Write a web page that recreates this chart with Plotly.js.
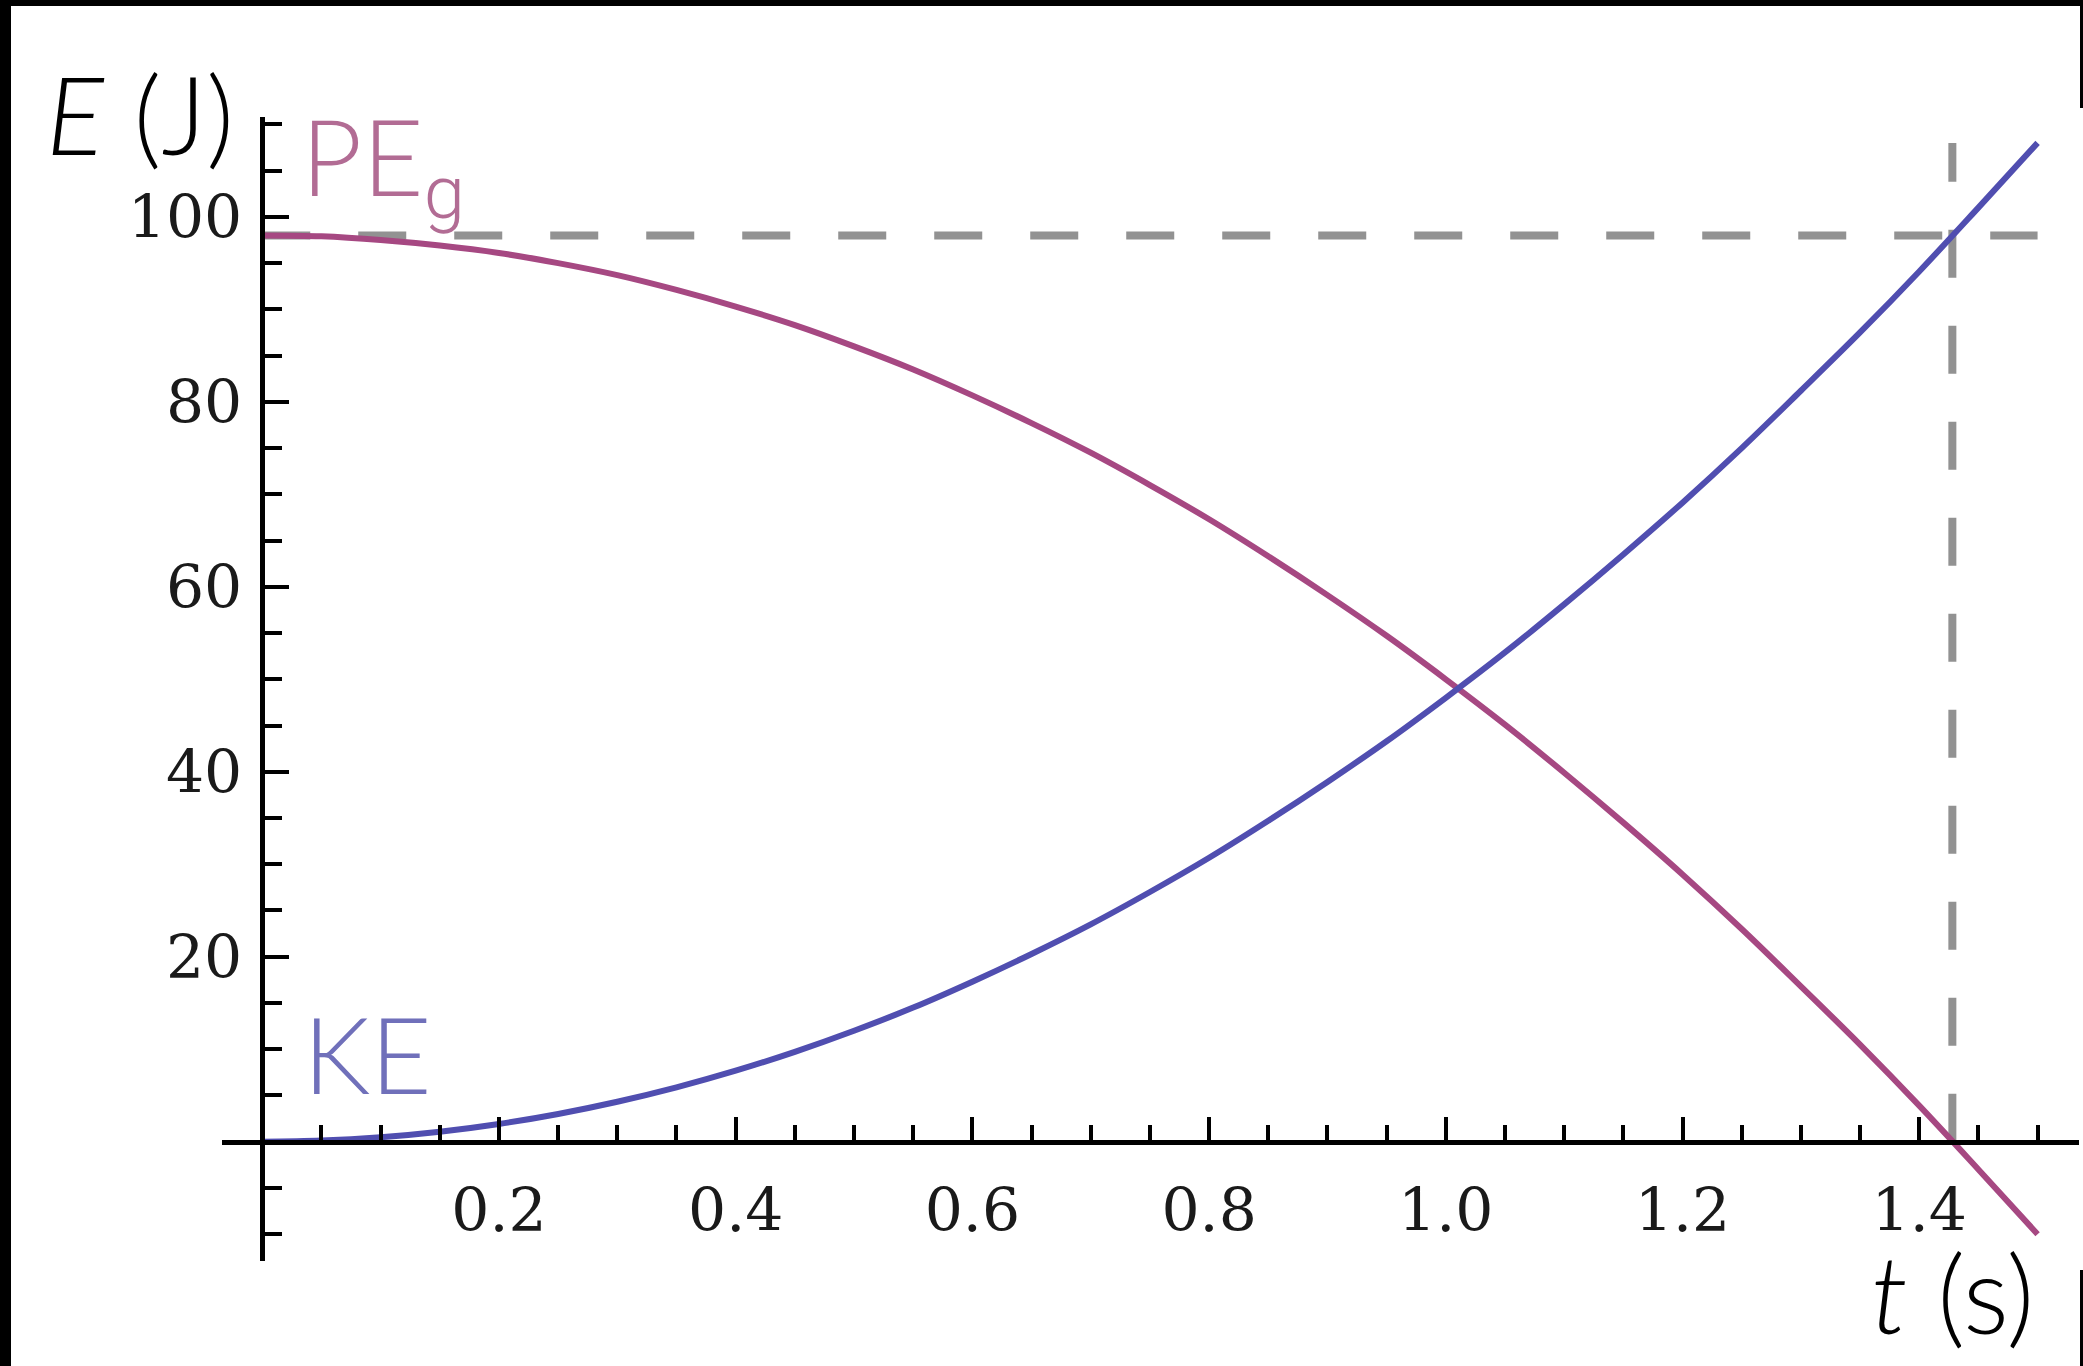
<!DOCTYPE html>
<html>
<head>
<meta charset="utf-8">
<script src="https://cdn.plot.ly/plotly-3.0.1.min.js"></script>
<style>
  html, body { margin: 0; padding: 0; background: #ffffff; }
  #wrap { position: relative; width: 2083px; height: 1366px; overflow: hidden; background: #fff; }
  #chart { position: absolute; left: 0; top: 0; width: 2083px; height: 1366px; }
  .edge { position: absolute; background: #000; }
</style>
</head>
<body>
<div id="wrap">
  <div id="chart"></div>
  <div class="edge" style="left:0;top:0;width:11px;height:1366px;"></div>
  <div class="edge" style="left:0;top:0;width:2083px;height:6px;"></div>
  <div class="edge" style="left:2080px;top:0;width:3px;height:108px;"></div>
  <div class="edge" style="left:2080px;top:1270px;width:3px;height:96px;"></div>
</div>
<script>
// ---- data ----
const time = [0, 0.05, 0.1, 0.15, 0.2, 0.25, 0.3, 0.35, 0.4, 0.45, 0.5,
              0.55, 0.6, 0.65, 0.7, 0.75, 0.8, 0.85, 0.9, 0.95, 1.0,
              1.05, 1.1, 1.15, 1.2, 1.25, 1.3, 1.35, 1.4, 1.45, 1.5];
const kineticEnergy = [0, 0.12, 0.48, 1.08, 1.92, 3.0, 4.32, 5.88, 7.68, 9.72, 12.0,
                       14.5, 17.3, 20.3, 23.5, 27.0, 30.7, 34.7, 38.9, 43.3, 48.0,
                       52.9, 58.1, 63.5, 69.1, 75.0, 81.2, 87.5, 94.1, 101.0, 108.0];
const potentialEnergy = [98, 97.9, 97.5, 96.9, 96.1, 95.0, 93.7, 92.1, 90.3, 88.3, 86.0,
                         83.5, 80.7, 77.7, 74.5, 71.0, 67.3, 63.3, 59.1, 54.7, 50.0,
                         45.1, 39.9, 34.5, 28.9, 23.0, 16.8, 10.5, 3.9, -3.0, -10.0];
const refLevelX = [0, 1.5];          // horizontal dashed guide (total energy)
const refLevelY = [98, 98];
const refTimeX = [1.428, 1.428];     // vertical dashed guide (PE reaches 0)
const refTimeY = [0, 108];
const xTickVals = [0.2, 0.4, 0.6, 0.8, 1.0, 1.2, 1.4];
const xTickText = ["0.2", "0.4", "0.6", "0.8", "1.0", "1.2", "1.4"];
const yTickVals = [20, 40, 60, 80, 100];
const yTickText = ["20", "40", "60", "80", "100"];
const labelE = "<i>E</i> (J)";
const labelT = "<i>t</i> (s)";
const labelPE = "PE<sub><span style=\"font-family:Roboto, 'DejaVu Sans', sans-serif\">g</span></sub>";
const labelKE = "KE";

// ---- styling ----
const PE_COLOR = "rgb(166,72,130)";
const KE_COLOR = "rgb(80,78,176)";
const GUIDE = "rgb(146,146,146)";
const SANS = "Lato, 'Open Sans', sans-serif";
const SERIF = "'DejaVu Serif', 'Liberation Serif', serif";

const xRange = [-0.034, 1.535];
const yRange = [-12.9, 110.8];
const yAxisPos = (0 - xRange[0]) / (xRange[1] - xRange[0]);
const xAxisPos = (0 - yRange[0]) / (yRange[1] - yRange[0]);

// pixel helpers for label placement (paper coordinates)
const px2x = p => (p - 222) / 1857;
const px2y = p => (1261.5 - p) / 1144.5;

const traces = [
  { x: refLevelX, y: refLevelY, mode: "lines", line: { color: GUIDE, width: 8, dash: "48px,48px" }, hoverinfo: "skip", showlegend: false },
  { x: refTimeX, y: refTimeY, mode: "lines", line: { color: GUIDE, width: 8, dash: "48px,48px" }, hoverinfo: "skip", showlegend: false },
  { x: time, y: potentialEnergy, mode: "lines", name: "PE", line: { color: PE_COLOR, width: 6, shape: "spline" }, showlegend: false },
  { x: time, y: kineticEnergy, mode: "lines", name: "KE", line: { color: KE_COLOR, width: 6, shape: "spline" }, showlegend: false }
];

const layout = {
  width: 2083, height: 1366,
  margin: { l: 222, r: 4, t: 117, b: 105, pad: 0 },
  paper_bgcolor: "#ffffff", plot_bgcolor: "#ffffff",
  showlegend: false,
  xaxis: {
    range: xRange, anchor: "free", position: xAxisPos, automargin: false,
    showgrid: false, zeroline: false,
    showline: true, linecolor: "#000", linewidth: 5,
    tickmode: "array", tickvals: xTickVals, ticktext: xTickText,
    ticks: "inside", ticklen: 23, tickwidth: 4, tickcolor: "#000",
    minor: { tickmode: "linear", tick0: 0, dtick: 0.05, ticks: "inside", ticklen: 15, tickwidth: 4, tickcolor: "#000", showgrid: false },
    tickfont: { family: SERIF, size: 60, color: "#1a1a1a" },
    ticklabelstandoff: 14
  },
  yaxis: {
    range: yRange, anchor: "free", position: yAxisPos, automargin: false,
    showgrid: false, zeroline: false,
    showline: true, linecolor: "#000", linewidth: 5,
    tickmode: "array", tickvals: yTickVals, ticktext: yTickText,
    ticks: "inside", ticklen: 24, tickwidth: 4, tickcolor: "#000",
    minor: { tickmode: "linear", tick0: 0, dtick: 5, ticks: "inside", ticklen: 17, tickwidth: 4, tickcolor: "#000", showgrid: false },
    tickfont: { family: SERIF, size: 60, color: "#1a1a1a" },
    ticklabelstandoff: 6
  },
  annotations: [
    { xref: "paper", yref: "paper", x: px2x(44), y: px2y(180), xanchor: "left", yanchor: "bottom",
      text: labelE, showarrow: false, font: { family: SANS, size: 108, color: "#000", weight: 300 } },
    { xref: "paper", yref: "paper", x: px2x(2036), y: px2y(1360), xanchor: "right", yanchor: "bottom",
      text: labelT, showarrow: false, font: { family: SANS, size: 108, color: "#000", weight: 300 } },
    { xref: "paper", yref: "paper", x: px2x(299), y: px2y(238), xanchor: "left", yanchor: "bottom",
      text: labelPE, showarrow: false, font: { family: SANS, size: 106, color: "rgb(178,108,148)", weight: 300 } },
    { xref: "paper", yref: "paper", x: px2x(301), y: px2y(1119), xanchor: "left", yanchor: "bottom",
      text: labelKE, showarrow: false, font: { family: SANS, size: 106, color: "rgb(112,112,186)", weight: 300 } }
  ]
};

Plotly.newPlot("chart", traces, layout, { staticPlot: true, displayModeBar: false });
</script>
</body>
</html>
